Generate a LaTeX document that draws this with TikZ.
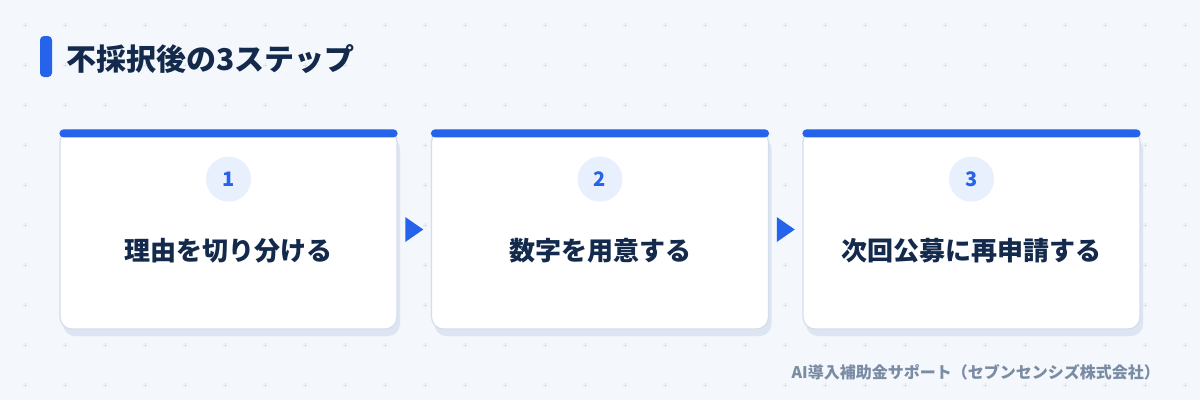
\documentclass[tikz,border=0pt]{standalone}
\usepackage{fontspec}
\setmainfont{Noto Sans CJK JP}
\usetikzlibrary{positioning,calc,shadows}
\definecolor{bgc}{HTML}{F4F7FB}
\definecolor{gridc}{HTML}{D9E1EC}
\definecolor{accent}{HTML}{2563EB}
\definecolor{ink}{HTML}{132A4C}
\definecolor{edgec}{HTML}{D3DEEC}
\definecolor{shadowc}{HTML}{DCE5F1}
\definecolor{numbg}{HTML}{E8F0FD}
\definecolor{mutec}{HTML}{7A8BA4}
\tikzset{
  card/.style={draw=edgec, line width=1.2pt, fill=white, rounded corners=12pt, minimum width=337pt, minimum height=199pt,
    general shadow={fill=shadowc, shadow xshift=3pt, shadow yshift=-7pt}},
  topbar/.style={fill=accent, rounded corners=4pt},
  num/.style={circle, fill=numbg, minimum size=45pt, inner sep=0pt, text=accent, font=\fontsize{20}{24}\selectfont\bfseries},
  steplabel/.style={text=ink, inner sep=0pt, font=\fontsize{26}{30}\selectfont\bfseries},
  nexttri/.style={fill=accent},
  titlemark/.style={fill=accent, rounded corners=4pt, minimum width=12pt, minimum height=41pt, inner sep=0pt},
  titletext/.style={text=ink, inner sep=0pt, font=\fontsize{30}{35}\selectfont\bfseries},
  credit/.style={text=mutec, inner sep=0pt, font=\fontsize{16}{20}\selectfont\bfseries},
  gridmark/.style={draw=gridc, line width=0.8pt},
}

\begin{document}
\begin{tikzpicture}[x=1pt, y=-1pt]

% --- canvas and dot grid ---
\fill[bgc] (0,0) rectangle (1200,400);
\useasboundingbox (0,0) rectangle (1200,400);
\foreach \gx in {25,65,...,1185} {
  \foreach \gy in {25,65,...,385} {
    \draw[gridmark] (\gx-1.8,\gy) -- (\gx+1.8,\gy) (\gx,\gy-1.8) -- (\gx,\gy+1.8);
  }
}

% --- heading ---
\node (mark) [titlemark] at (46,56.5) {};
\node (title) [titletext, right=14pt of mark, yshift=-2.5pt] {不採択後の3ステップ};

% --- the three step cards ---
\node (card1) [card] at (228.5,229.5) {};
\node (card2) [card, right=33.3pt of card1] {};
\node (card3) [card, right=33.3pt of card2] {};

\fill[topbar] (card1.north west) rectangle ([yshift=-8pt]card1.north east);
\fill[topbar] (card2.north west) rectangle ([yshift=-8pt]card2.north east);
\fill[topbar] (card3.north west) rectangle ([yshift=-8pt]card3.north east);

% step numbers
\node (num1) [num, below=27pt of card1.north] {1};
\node (num2) [num, below=27pt of card2.north] {2};
\node (num3) [num, below=27pt of card3.north] {3};

% step texts
\node (lab1) [steplabel] at ($(card1.north)+(0,121)$) {理由を切り分ける};
\node (lab2) [steplabel] at ($(card2.north)+(0,121)$) {数字を用意する};
\node (lab3) [steplabel] at ($(card3.north)+(0,121)$) {次回公募に再申請する};

% --- arrows between cards ---
\coordinate (gap1) at ($(card1.east)!0.5!(card2.west)$);
\coordinate (gap2) at ($(card2.east)!0.5!(card3.west)$);
\fill[nexttri] ($(gap1)+(-9,-12.5)$) -- ($(gap1)+(9,0)$) -- ($(gap1)+(-9,12.5)$) -- cycle;
\fill[nexttri] ($(gap2)+(-9,-12.5)$) -- ($(gap2)+(9,0)$) -- ($(gap2)+(-9,12.5)$) -- cycle;

% --- footer ---
\node (src) [credit, anchor=east] at (1160,372) {AI導入補助金サポート（セブンセンシズ株式会社）};

\end{tikzpicture}
\end{document}
